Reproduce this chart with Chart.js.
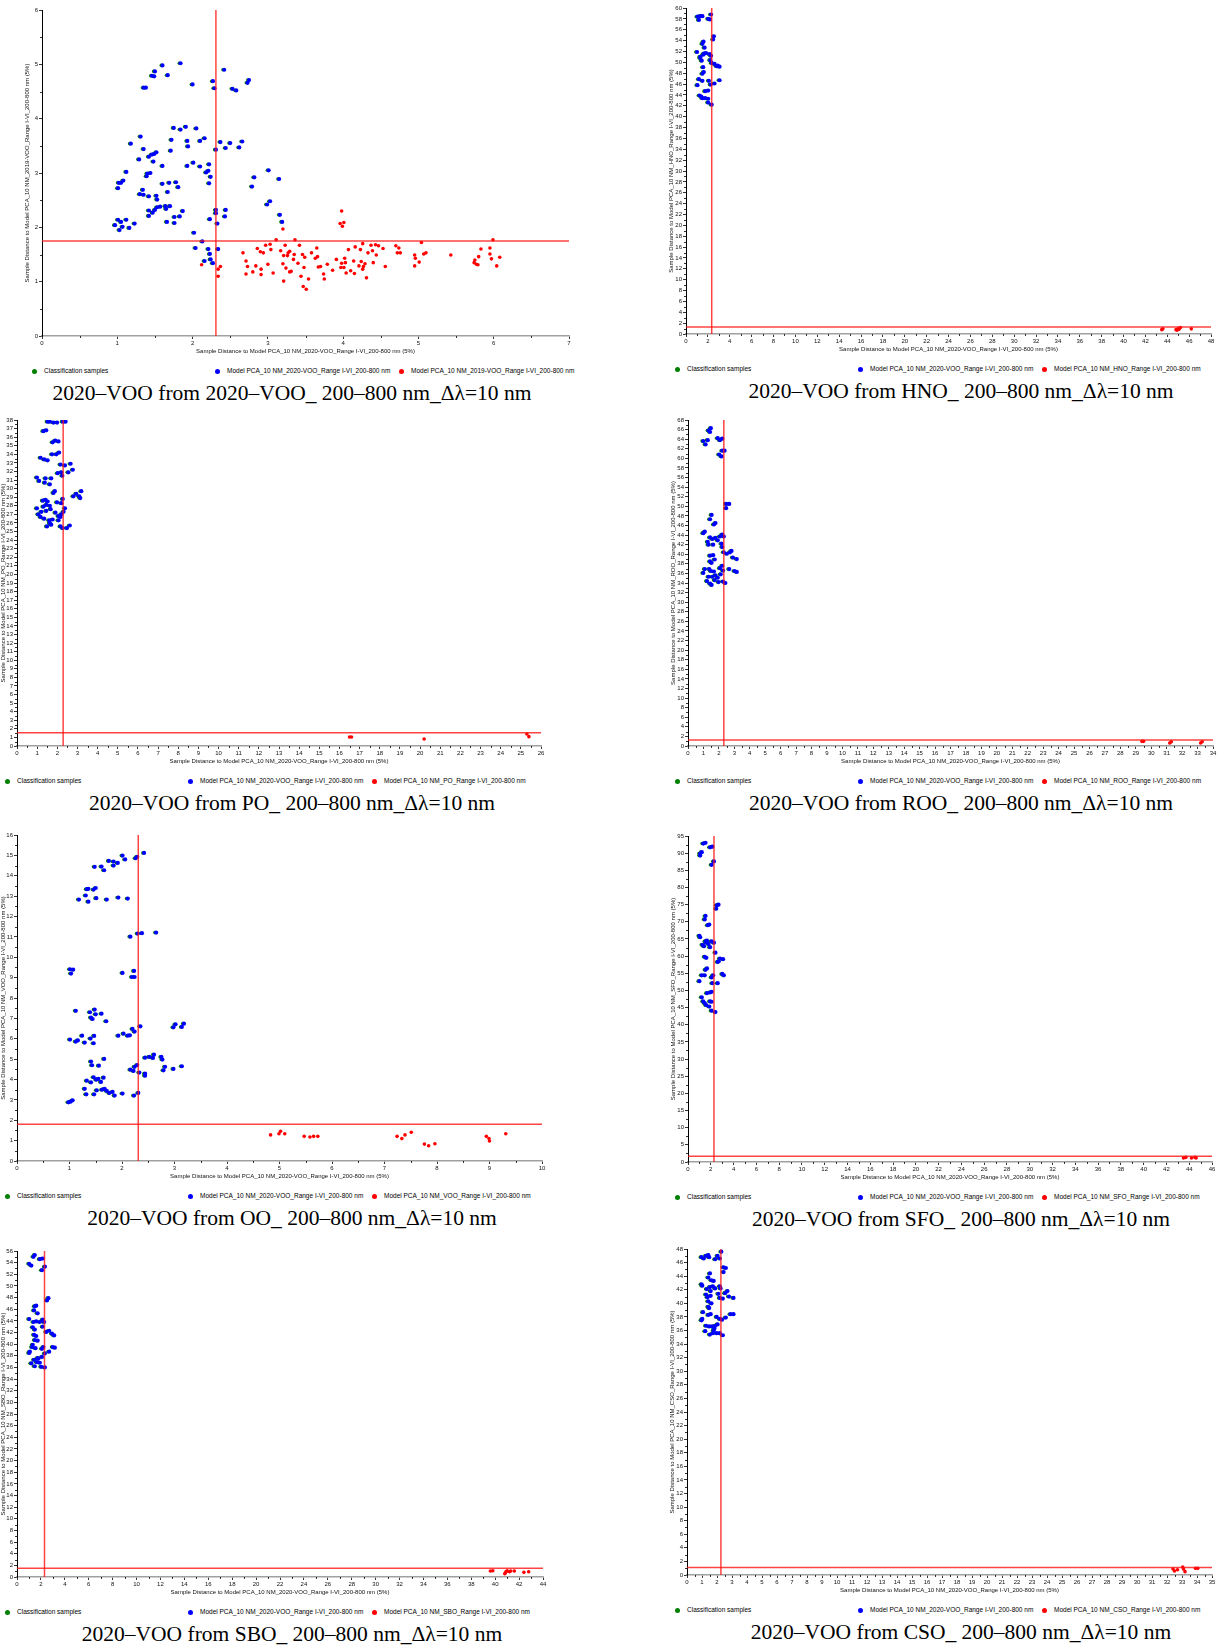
<!DOCTYPE html>
<html>
<head>
<meta charset="utf-8">
<script src="https://cdn.jsdelivr.net/npm/chart.js@4.4.1/dist/chart.umd.min.js"></script>
<style>
  body { margin: 0; background: #fff; width: 1218px; height: 1647px; position: relative; overflow: hidden; font-family: "Liberation Sans", Arial, sans-serif; }
  canvas { position: absolute; }
  .legend { position: absolute; height: 8px; font-size: 6.5px; line-height: 8px; color: #000; white-space: nowrap; }
  .legend span { position: absolute; top: 0; }
  .legend i { position: absolute; top: 1.5px; width: 5px; height: 5px; border-radius: 50%; }
  .caption { position: absolute; width: 600px; text-align: center; font-family: "Liberation Serif", "Times New Roman", serif; font-size: 21.5px; line-height: 24px; white-space: nowrap; color: #000; }
</style>
</head>
<body>
<script>
// ---- data: [distance to 2020-VOO model, distance to reference model] ----
const vooSelfBlue = [[0.97,2.04],[1.01,2.72],[1.02,2.82],[1.05,2.82],[1.08,2.86],[1.12,3.02],[1.01,2.14],[1.03,1.95],[1.05,2.10],[1.07,2.01],
  [1.12,2.14],[1.16,1.99],[1.23,2.07],[1.18,3.54],[1.31,3.67],[1.29,3.25],[1.30,2.61],[1.34,2.69],[1.35,2.60],[1.35,4.57],
  [1.38,4.57],[1.35,3.44],[1.39,2.94],[1.40,2.99],[1.44,3.00],[1.42,2.57],[1.42,2.31],[1.42,2.21],[1.46,4.79],[1.49,4.78],
  [1.50,4.87],[1.42,3.30],[1.46,3.34],[1.49,3.35],[1.52,3.38],[1.48,3.21],[1.47,2.27],[1.50,2.32],[1.53,2.37],[1.57,2.38],
  [1.52,2.58],[1.53,2.51],[1.60,4.98],[1.60,3.13],[1.60,2.80],[1.64,2.39],[1.65,2.34],[1.66,2.10],[1.67,4.80],[1.67,2.65],
  [1.69,2.82],[1.70,2.39],[1.71,3.41],[1.72,3.61],[1.76,2.19],[1.76,2.08],[1.75,3.83],[1.78,2.83],[1.81,2.74],[1.83,2.20],
  [1.84,3.80],[1.84,5.02],[1.87,2.30],[1.91,3.85],[1.93,3.59],[1.94,3.49],[1.93,3.13],[2.00,4.63],[2.01,3.19],[2.05,3.82],
  [2.02,1.90],[2.04,1.62],[2.10,3.59],[2.10,3.12],[2.13,1.74],[2.16,3.64],[2.16,1.38],[2.18,3.01],[2.21,3.04],[2.22,3.16],
  [2.22,2.81],[2.24,2.93],[2.23,2.15],[2.21,1.60],[2.23,1.51],[2.24,1.41],[2.27,1.34],[2.27,4.69],[2.29,4.56],[2.31,3.43],
  [2.31,2.32],[2.31,2.26],[2.33,2.07],[2.34,1.60],[2.37,3.57],[2.42,4.90],[2.44,3.46],[2.44,2.32],[2.43,2.20],[2.50,3.55],
  [2.53,4.55],[2.58,4.52],[2.62,3.47],[2.66,3.58],[2.73,4.66],[2.75,4.71],[2.79,2.75],[2.82,2.92],[2.99,2.42],[3.01,3.05],
  [3.03,2.48],[3.15,2.89],[3.16,2.23],[3.19,2.10]];
const vooSelfRed = [[2.12,1.31],[2.34,1.23],[2.37,1.28],[2.34,1.10],[2.67,1.53],[2.71,1.38],[2.73,1.28],[2.71,1.14],[2.80,1.18],[2.84,1.29],
  [2.86,1.61],[2.90,1.55],[2.91,1.23],[2.91,1.13],[2.94,1.53],[2.97,1.67],[3.00,1.32],[3.04,1.59],[3.03,1.69],[3.07,1.16],
  [3.11,1.77],[3.17,1.57],[3.20,1.33],[3.20,1.97],[3.21,1.48],[3.21,1.01],[3.23,1.67],[3.24,1.25],[3.26,1.48],[3.27,1.53],
  [3.29,1.56],[3.29,1.18],[3.31,1.19],[3.34,1.41],[3.35,1.50],[3.36,1.77],[3.40,1.34],[3.42,1.67],[3.44,1.10],[3.46,1.50],
  [3.47,0.91],[3.48,1.26],[3.49,1.45],[3.51,0.86],[3.54,1.05],[3.58,1.53],[3.63,1.43],[3.65,1.62],[3.66,1.46],[3.67,1.27],
  [3.70,1.28],[3.74,1.14],[3.75,1.05],[3.79,1.32],[3.86,1.21],[3.91,1.41],[3.96,2.07],[3.98,2.30],[3.99,2.02],[4.01,2.09],
  [3.98,1.34],[3.97,1.26],[4.01,1.26],[4.02,1.43],[4.03,1.35],[4.04,1.16],[4.07,1.59],[4.10,1.20],[4.14,1.38],[4.15,1.15],
  [4.16,1.64],[4.21,1.29],[4.23,1.59],[4.24,1.37],[4.26,1.70],[4.27,1.28],[4.26,1.23],[4.29,1.33],[4.31,1.07],[4.33,1.53],
  [4.37,1.67],[4.39,1.57],[4.40,1.35],[4.43,1.68],[4.44,1.49],[4.47,1.66],[4.53,1.61],[4.56,1.28],[4.70,1.66],[4.74,1.62],
  [4.72,1.53],[4.76,1.53],[4.95,1.49],[4.96,1.43],[4.95,1.29],[5.01,1.36],[5.04,1.72],[5.07,1.51],[5.10,1.53],[5.43,1.49],
  [5.74,1.35],[5.75,1.40],[5.77,1.32],[5.79,1.31],[5.80,1.46],[5.83,1.60],[5.95,1.62],[5.95,1.51],[5.97,1.42],[5.99,1.77],
  [6.04,1.29],[6.08,1.45]];

const hnoBlue = [[1.05,58.4],[1.18,57.8],[1.31,58.5],[1.50,58.5],[2.03,58.0],[2.19,57.9],[2.29,58.8],[2.55,54.8],[2.48,54.2],[1.60,53.8],
  [1.50,53.4],[1.70,52.7],[1.01,51.9],[1.31,50.8],[1.44,50.3],[1.57,51.4],[1.83,51.7],[2.16,51.5],[2.29,51.2],[2.22,50.4],
  [2.35,49.9],[2.61,49.7],[2.81,49.3],[3.07,49.2],[1.57,49.1],[1.50,47.9],[1.63,48.2],[1.18,46.9],[1.50,46.6],[1.05,45.8],
  [2.09,46.6],[2.26,45.9],[2.61,46.1],[3.07,46.7],[1.76,44.7],[2.03,44.8],[1.24,43.9],[1.50,43.4],[1.76,43.4],[2.03,43.3],
  [2.03,42.6],[2.35,42.2],[1.31,51.0],[1.40,43.7],[1.65,51.6],[2.90,49.4]];
const hnoRed = [[43.5,0.8],[43.6,0.95],[44.8,0.8],[44.9,0.7],[45.0,1.0],[45.1,0.9],[45.2,1.2],[46.2,0.95]];

const poBlue = [[1.52,37.8],[1.63,37.8],[1.81,37.7],[1.99,37.7],[2.27,37.8],[2.41,37.8],[1.31,36.7],[1.45,36.8],[1.77,35.4],[1.90,35.6],
  [2.06,35.5],[1.74,34.0],[1.95,34.0],[2.09,34.2],[1.17,33.6],[1.35,33.4],[1.52,33.3],[2.16,32.8],[2.38,32.7],[2.66,32.9],
  [2.02,31.8],[2.20,31.9],[2.25,31.5],[2.55,31.9],[2.77,32.2],[0.99,31.3],[1.10,30.9],[1.42,31.2],[1.38,30.7],[1.63,30.5],
  [1.70,31.2],[1.81,29.5],[1.88,29.7],[2.80,29.1],[2.94,29.4],[3.09,29.1],[3.19,29.7],[3.14,28.9],[2.27,28.8],[1.28,28.6],
  [1.42,28.7],[1.52,28.5],[1.99,28.4],[2.20,28.3],[0.99,27.7],[1.31,27.9],[1.45,28.1],[1.63,28.0],[2.38,27.7],[2.31,27.3],
  [1.21,27.3],[1.45,27.4],[1.67,27.6],[1.91,27.2],[1.06,27.0],[1.17,26.7],[1.35,26.5],[1.60,26.3],[1.77,26.4],[2.06,26.3],
  [2.16,26.7],[2.20,27.0],[1.63,26.0],[1.49,25.6],[2.16,25.6],[2.27,25.4],[2.48,25.4],[2.62,25.7],[1.70,25.8],[2.06,26.8]];
const poRed = [[16.5,1.05],[16.6,1.05],[20.2,0.82],[25.3,1.40],[25.4,1.09]];

const rooBlue = [[0.99,63.6],[1.14,62.9],[1.28,63.8],[1.33,65.8],[1.48,66.3],[1.43,65.5],[1.93,64.2],[2.07,63.8],[2.22,64.1],[2.22,61.6],
  [2.37,61.6],[2.02,60.8],[2.17,60.4],[2.47,50.5],[2.67,50.5],[2.47,49.6],[1.53,48.2],[1.43,47.3],[1.68,46.2],[1.78,46.5],
  [0.99,44.4],[1.09,44.7],[2.22,44.1],[2.32,43.7],[1.43,43.5],[1.58,43.2],[1.78,43.4],[1.93,42.9],[1.28,42.6],[1.33,42.0],
  [1.63,42.0],[2.07,43.7],[2.17,42.2],[2.22,41.5],[2.32,40.4],[2.52,40.1],[2.72,40.4],[2.82,40.7],[2.91,39.3],[3.16,39.0],
  [1.43,39.7],[1.63,39.8],[1.73,38.9],[1.53,38.2],[1.43,38.5],[1.09,36.9],[0.99,36.1],[1.48,36.5],[1.68,36.4],[1.38,36.9],
  [2.07,37.1],[2.22,37.6],[2.27,36.6],[2.67,36.9],[3.01,36.5],[3.16,36.3],[1.33,35.3],[1.58,35.3],[1.78,35.6],[1.93,35.1],
  [2.12,35.8],[1.73,34.6],[1.23,34.4],[1.43,33.9],[1.53,33.6],[1.98,34.2],[2.27,34.3],[2.42,34.0]];
const rooRed = [[29.4,0.97],[29.5,0.97],[31.2,0.62],[31.3,0.9],[33.2,0.62],[33.3,0.9]];

const ooBlue = [[2.01,14.99],[2.06,14.80],[2.26,14.86],[2.29,14.93],[2.42,15.12],[1.75,14.73],[1.84,14.70],[1.92,14.63],[1.84,14.50],[1.48,14.44],
  [1.61,14.45],[1.66,14.27],[1.33,13.34],[1.36,13.36],[1.46,13.32],[1.50,13.40],[1.18,12.83],[1.31,13.03],[1.36,12.73],[1.51,12.90],
  [1.71,12.83],[1.93,12.93],[2.11,12.88],[2.16,11.01],[2.30,11.16],[2.38,11.18],[2.65,11.21],[1.01,9.41],[1.03,9.20],[1.07,9.39],
  [2.01,9.23],[2.23,9.33],[2.19,9.03],[2.24,9.03],[1.12,7.37],[1.39,7.30],[1.48,7.43],[1.50,7.20],[1.61,7.23],[1.41,7.04],
  [1.44,6.97],[1.70,6.86],[1.01,5.96],[1.12,5.86],[1.16,5.92],[1.24,6.15],[1.29,5.81],[1.40,6.01],[1.47,6.14],[1.46,5.78],
  [1.93,6.15],[2.03,6.25],[2.11,6.15],[2.15,6.17],[2.20,6.48],[2.24,6.35],[2.35,6.61],[2.98,6.56],[3.02,6.71],[3.14,6.58],
  [3.18,6.74],[1.41,4.88],[1.43,4.70],[1.66,5.01],[1.56,4.68],[2.44,5.07],[2.52,5.11],[2.59,5.06],[2.61,5.22],[2.75,5.11],
  [2.77,4.98],[2.82,4.62],[2.79,4.45],[2.98,4.52],[3.14,4.65],[2.16,4.48],[2.22,4.42],[2.24,4.62],[2.29,4.71],[2.33,4.34],
  [2.44,4.29],[2.44,4.19],[1.33,3.94],[1.41,3.86],[1.46,4.11],[1.51,3.99],[1.55,4.03],[1.60,3.88],[1.65,4.09],[1.29,3.54],
  [1.32,3.27],[1.47,3.27],[1.52,3.47],[1.62,3.50],[1.67,3.54],[1.71,3.44],[1.76,3.34],[1.82,3.39],[1.86,3.21],[2.01,3.31],
  [2.23,3.21],[2.31,3.34],[0.98,2.88],[1.02,2.91],[1.06,2.98]];
const ooRed = [[4.83,1.28],[4.99,1.34],[5.02,1.46],[5.10,1.34],[5.47,1.21],[5.58,1.18],[5.65,1.21],[5.73,1.21],[7.24,1.21],[7.33,1.10],
  [7.39,1.28],[7.51,1.41],[7.76,0.83],[7.84,0.75],[7.96,0.85],[8.94,1.21],[8.99,1.10],[9.00,0.98],[9.31,1.34]];

const sfoBlue = [[1.07,89.9],[1.21,90.3],[1.07,89.3],[1.34,92.8],[1.54,93.0],[1.94,91.7],[2.14,91.9],[2.28,87.6],[2.08,86.6],[2.54,74.8],
  [2.68,75.0],[2.48,73.8],[1.54,71.7],[1.47,70.7],[1.74,69.0],[1.87,69.2],[1.00,65.9],[1.07,65.5],[1.41,62.9],[1.54,64.3],
  [1.67,64.5],[1.81,63.5],[1.94,62.6],[1.27,63.3],[2.08,64.3],[2.28,63.9],[2.41,61.0],[1.47,59.8],[1.61,59.5],[2.61,58.3],
  [2.81,59.3],[3.08,59.1],[1.54,56.0],[1.67,56.4],[1.47,54.4],[1.21,54.4],[1.00,52.7],[2.08,53.8],[2.21,54.4],[2.14,52.1],
  [2.61,52.1],[3.01,54.8],[3.15,54.4],[1.67,49.2],[1.94,49.4],[2.08,49.6],[1.21,48.0],[1.34,46.8],[1.47,46.3],[1.61,45.7],
  [1.87,45.3],[1.94,46.8],[2.08,46.7],[2.08,44.1],[2.41,43.7],[1.60,64.0],[2.70,58.5]];
const sfoRed = [[43.5,1.15],[43.7,1.35],[44.2,1.15],[44.5,1.35],[44.6,1.2]];

const sboBlue = [[1.02,53.8],[1.20,53.5],[1.38,55.0],[1.49,55.3],[1.91,54.6],[2.15,54.7],[2.09,52.7],[2.33,53.3],[2.51,47.5],[2.63,47.9],
  [1.49,46.5],[1.61,46.6],[1.43,45.8],[1.73,45.3],[1.02,44.3],[1.38,43.8],[1.61,43.9],[1.91,43.8],[2.15,44.2],[2.27,43.8],
  [1.32,42.9],[1.49,42.5],[2.15,43.0],[2.45,42.1],[2.69,42.3],[2.93,41.8],[3.11,41.5],[1.43,41.6],[1.61,41.4],[1.49,40.7],
  [1.73,40.6],[1.32,39.9],[1.55,39.3],[1.26,39.5],[2.09,39.2],[2.21,39.5],[2.33,38.4],[2.69,38.7],[2.99,39.5],[3.17,39.4],
  [1.02,38.5],[1.08,38.7],[1.20,36.7],[1.43,37.3],[1.49,36.2],[1.67,36.9],[1.79,37.5],[1.91,36.8],[2.09,37.8],[2.03,36.1],
  [2.33,36.0],[1.73,37.6]];
const sboRed = [[39.6,1.03],[39.8,1.08],[40.8,0.57],[40.85,0.7],[40.9,0.9],[41.0,1.05],[41.2,0.9],[41.3,1.03],[41.6,1.03],[42.4,0.8],[42.8,0.9]];

const csoBlue = [[0.97,46.8],[1.12,46.6],[1.27,47.0],[1.42,47.1],[1.48,46.8],[1.88,46.5],[2.04,47.0],[2.19,46.6],[2.29,47.6],[2.44,45.3],
  [2.59,45.2],[2.44,44.6],[1.53,44.4],[1.42,43.8],[1.63,43.4],[1.78,43.3],[0.97,42.8],[1.02,42.6],[1.32,42.1],[1.53,42.4],
  [1.73,42.5],[1.88,42.2],[2.19,42.5],[2.24,42.2],[1.58,41.8],[1.27,41.3],[1.37,40.9],[1.58,41.1],[2.09,41.4],[2.19,40.8],
  [2.39,40.7],[2.54,41.5],[2.70,41.8],[2.80,41.0],[3.10,40.8],[1.42,40.3],[1.63,40.0],[1.42,39.5],[1.48,39.3],[1.07,38.7],
  [1.42,38.3],[1.58,38.4],[1.98,38.0],[2.19,37.7],[2.34,37.6],[2.59,37.9],[2.90,38.4],[3.10,38.4],[0.97,37.5],[1.02,37.7],
  [1.27,36.7],[1.48,36.6],[1.68,36.6],[1.88,36.7],[2.04,36.9],[1.78,36.0],[1.22,35.9],[1.53,35.4],[1.73,35.6],[1.98,35.6],
  [2.19,35.6],[2.39,35.3],[1.83,36.3]];
const csoRed = [[32.4,0.88],[32.5,0.59],[32.7,0.78],[33.05,1.17],[33.1,0.88],[33.2,0.49],[33.9,0.98],[34.05,0.98]];

// ---- per-panel labels, axis ranges and limit lines ----
const refModels = ['2019-VOO', 'HNO', 'PO', 'ROO', 'VOO', 'SFO', 'SBO', 'CSO'];
const panelTitles = ['2020–VOO from 2020–VOO_ 200–800 nm_Δλ=10 nm', '2020–VOO from HNO_ 200–800 nm_Δλ=10 nm',
  '2020–VOO from PO_ 200–800 nm_Δλ=10 nm', '2020–VOO from ROO_ 200–800 nm_Δλ=10 nm',
  '2020–VOO from OO_ 200–800 nm_Δλ=10 nm', '2020–VOO from SFO_ 200–800 nm_Δλ=10 nm',
  '2020–VOO from SBO_ 200–800 nm_Δλ=10 nm', '2020–VOO from CSO_ 200–800 nm_Δλ=10 nm'];
const blueSets = [vooSelfBlue, hnoBlue, poBlue, rooBlue, ooBlue, sfoBlue, sboBlue, csoBlue];
const redSets = [vooSelfRed, hnoRed, poRed, rooRed, ooRed, sfoRed, sboRed, csoRed];
const xMax = [7, 48, 26, 34, 10, 46, 44, 35];
const xStep = [1, 2, 1, 1, 1, 2, 2, 1];
const yMax = [6, 60, 38, 68, 16, 95, 56, 48];
const yStep = [1, 2, 1, 2, 1, 5, 2, 2];
const vLimit = [2.31, 2.35, 2.29, 2.32, 2.31, 2.28, 2.30, 2.26];
const hLimit = [1.75, 1.3, 1.55, 1.25, 1.80, 1.65, 1.49, 1.12];

// ---- page layout (plot area in page pixels) ----
const layout = [
  { axisX: 42, right: 569, top: 10 },
  { axisX: 686, right: 1211, top: 8 },
  { axisX: 17, right: 541, top: 420 },
  { axisX: 688, right: 1213, top: 420 },
  { axisX: 17, right: 542, top: 835 },
  { axisX: 688, right: 1212, top: 836 },
  { axisX: 17, right: 543, top: 1251 },
  { axisX: 687, right: 1212, top: 1249 }
];
const PLOT_H = 326, PAD_T = 5, PAD_R = 7, X_H = 19;
const xTitle = 'Sample Distance to Model PCA_10 NM_2020-VOO_Range I-VI_200-800 nm (5%)';
const limitColor = 'rgba(255,20,20,0.8)';

const toXY = arr => arr.map(p => ({ x: p[0], y: p[1] }));

// green markers sit just behind the blue ones, a touch to the left
const shiftGreen = {
  id: 'shiftGreen',
  beforeDatasetDraw(chart, args) { if (args.index === 0) { chart.ctx.save(); chart.ctx.translate(-1.2, 0); } },
  afterDatasetDraw(chart, args) { if (args.index === 0) chart.ctx.restore(); }
};

// small minor ticks halfway between the labelled ones
const minorTicks = {
  id: 'minorTicks',
  afterDraw(chart, args, opts) {
    const { ctx, scales: { x, y } } = chart;
    ctx.save();
    ctx.strokeStyle = '#000';
    ctx.lineWidth = 0.8;
    for (let v = opts.xs / 2; v < x.max; v += opts.xs) {
      const px = Math.round(x.getPixelForValue(v)) + 0.5;
      ctx.beginPath(); ctx.moveTo(px, x.top); ctx.lineTo(px, x.top + 2); ctx.stroke();
    }
    for (let v = opts.ys / 2; v < y.max; v += opts.ys) {
      const py = Math.round(y.getPixelForValue(v)) + 0.5;
      ctx.beginPath(); ctx.moveTo(y.right, py); ctx.lineTo(y.right - 2, py); ctx.stroke();
    }
    ctx.restore();
  }
};

function addPanel(i) {
  const L = layout[i];
  const yW = Math.min(18, L.axisX);
  const left = L.axisX - yW;
  const w = L.right - left + PAD_R;
  const h = PAD_T + PLOT_H + X_H;
  const cv = document.createElement('canvas');
  cv.width = w; cv.height = h;
  cv.style.left = left + 'px';
  cv.style.top = (L.top - PAD_T) + 'px';
  cv.style.width = w + 'px';
  cv.style.height = h + 'px';
  document.body.appendChild(cv);

  const tickFont = { family: '"Liberation Sans", Arial, sans-serif', size: 6 };
  // higher "order" is drawn first (underneath)
  new Chart(cv, {
    type: 'scatter',
    data: {
      datasets: [
        { label: 'Classification samples', data: toXY(blueSets[i]), backgroundColor: '#008000', borderWidth: 0, pointRadius: 1.8, order: 5 },
        { label: 'Model PCA_10 NM_2020-VOO_Range I-VI_200-800 nm', data: toXY(blueSets[i]), backgroundColor: '#0000ff', borderWidth: 0, pointRadius: 2.1, order: 4 },
        { label: 'Model PCA_10 NM_' + refModels[i] + '_Range I-VI_200-800 nm', data: toXY(redSets[i]), backgroundColor: '#ff0000', borderWidth: 0, pointRadius: 1.8, order: 3 },
        { data: [{ x: vLimit[i], y: 0 }, { x: vLimit[i], y: yMax[i] }], showLine: true, borderColor: limitColor, borderWidth: 1.5, pointRadius: 0, order: 1 },
        { data: [{ x: 0, y: hLimit[i] }, { x: xMax[i], y: hLimit[i] }], showLine: true, borderColor: limitColor, borderWidth: 1.5, pointRadius: 0, order: 1 }
      ]
    },
    options: {
      responsive: false,
      animation: false,
      devicePixelRatio: 1,
      layout: { padding: { top: PAD_T, right: PAD_R, left: 0, bottom: 0 } },
      plugins: {
        legend: { display: false },
        tooltip: { enabled: false },
        minorTicks: { xs: xStep[i], ys: yStep[i] }
      },
      scales: {
        x: {
          type: 'linear', min: 0, max: xMax[i],
          afterFit: s => { s.height = X_H; },
          ticks: { stepSize: xStep[i], autoSkip: false, maxRotation: 0, font: tickFont, color: '#111', padding: 1 },
          grid: { drawOnChartArea: false, tickLength: 3, color: '#000', lineWidth: 0.8 },
          border: { color: '#a0a0a0', width: 1.5 },
          title: { display: true, text: xTitle, font: tickFont, color: '#111', padding: { top: 0, bottom: 0 } }
        },
        y: {
          type: 'linear', min: 0, max: yMax[i],
          afterFit: s => { s.width = yW; },
          ticks: { stepSize: yStep[i], autoSkip: false, font: tickFont, color: '#111', padding: 1 },
          grid: { drawOnChartArea: false, tickLength: 3, color: '#000', lineWidth: 0.8 },
          border: { color: '#000', width: 1 },
          title: { display: true, text: 'Sample Distance to Model PCA_10 NM_' + refModels[i] + '_Range I-VI_200-800 nm (5%)', font: tickFont, color: '#111', padding: { top: 0, bottom: 0 } }
        }
      }
    },
    plugins: [shiftGreen, minorTicks]
  });

  // legend row under the plot
  const col = i % 2;
  const base = col === 0 ? (i === 0 ? 27 : 0) : 670;
  const lg = document.createElement('div');
  lg.className = 'legend';
  lg.style.left = base + 'px';
  lg.style.top = (L.top + PLOT_H + 31) + 'px';
  const items = [
    ['#008000', 'Classification samples', 7],
    ['#0000ff', 'Model PCA_10 NM_2020-VOO_Range I-VI_200-800 nm', 190],
    ['#ff0000', 'Model PCA_10 NM_' + refModels[i] + '_Range I-VI_200-800 nm', 374]
  ];
  lg.innerHTML = items.map(it =>
    `<i style="left:${it[2] - 2.5}px;background:${it[0]}"></i><span style="left:${it[2] + 10}px">${it[1]}</span>`
  ).join('');
  document.body.appendChild(lg);

  const cap = document.createElement('div');
  cap.className = 'caption';
  cap.textContent = panelTitles[i];
  cap.style.left = ((col === 0 ? 292 : 961) - 300) + 'px';
  cap.style.top = (L.top + PLOT_H + 45) + 'px';
  document.body.appendChild(cap);
}

document.addEventListener('DOMContentLoaded', () => {
  for (let i = 0; i < 8; i++) addPanel(i);
});
</script>
</body>
</html>
